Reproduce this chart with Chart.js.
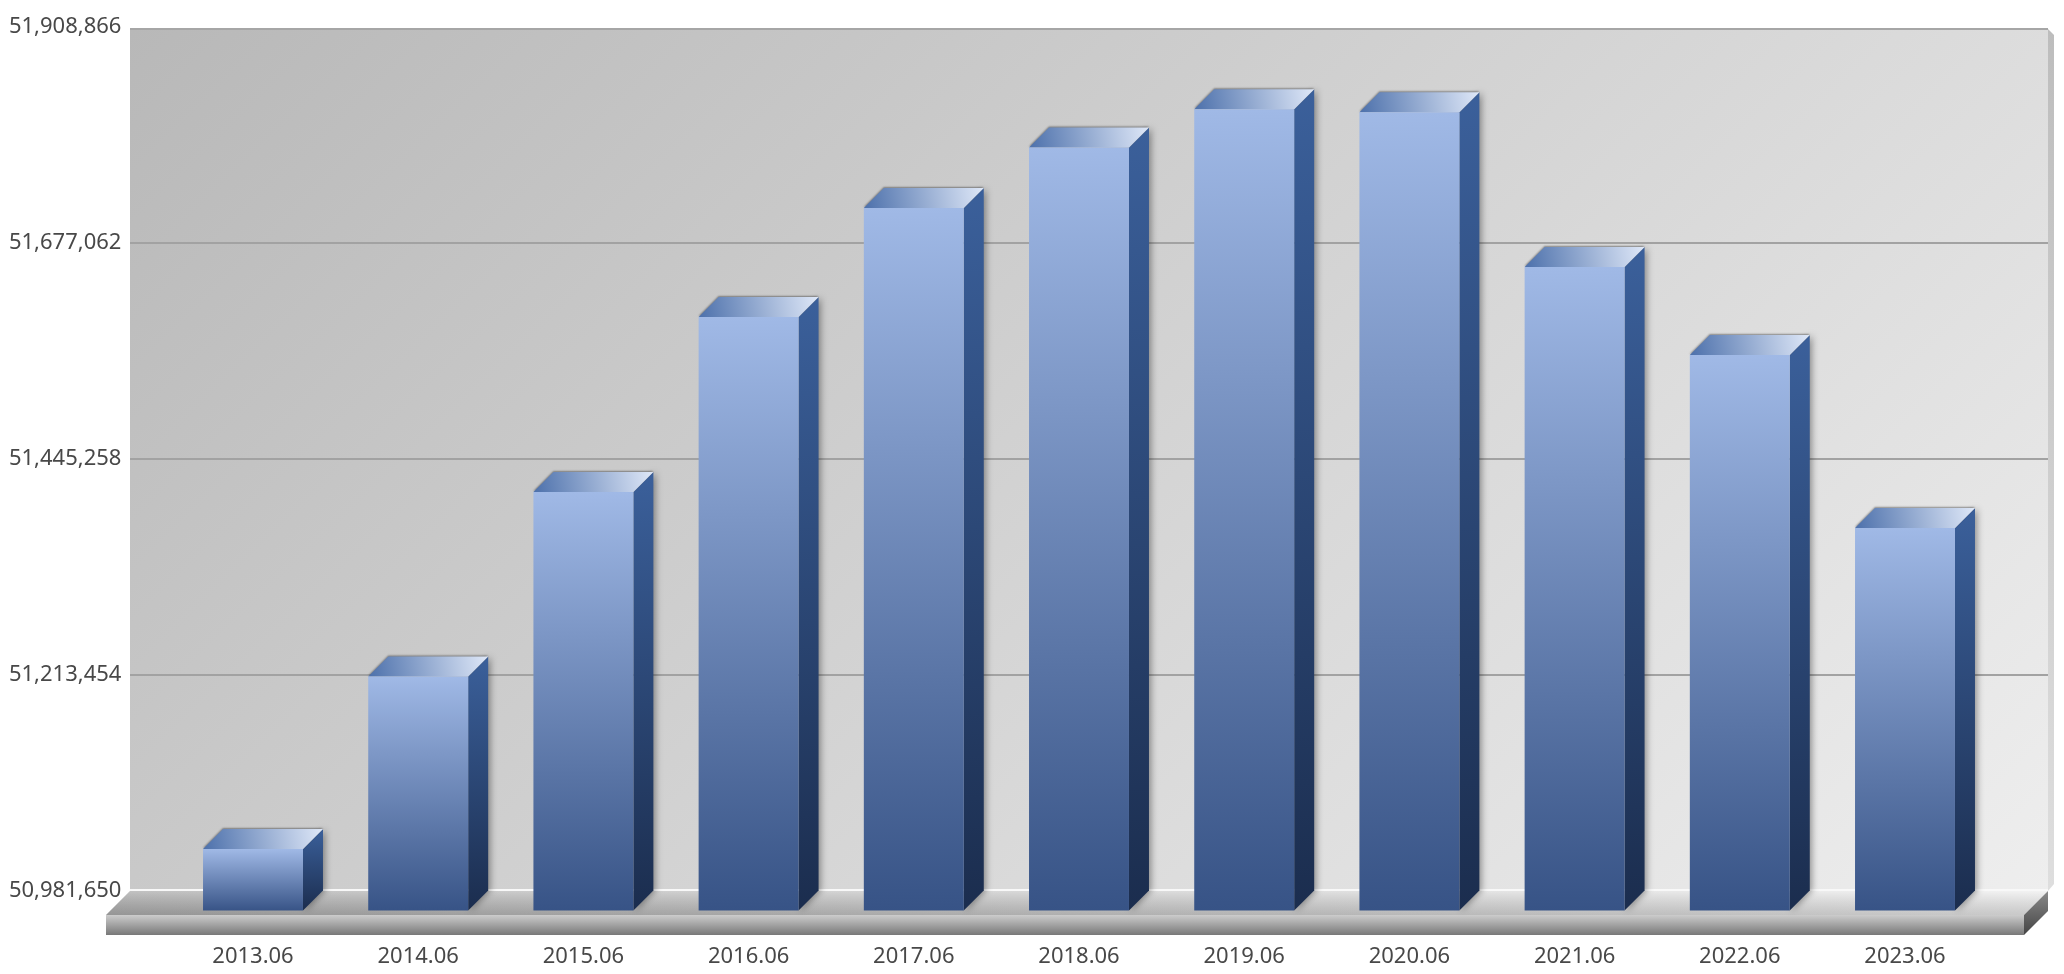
<!DOCTYPE html>
<html>
<head>
<meta charset="utf-8">
<style>
    html, body { margin: 0; padding: 0; background: #fff; }
    canvas { display: block; }
</style>
<script src="https://cdn.jsdelivr.net/npm/chart.js@4"></script>
</head>
<body>
<canvas id="chart" width="2064" height="974"></canvas>
<script>
// values
const categories = ["2013.06", "2014.06", "2015.06", "2016.06", "2017.06", "2018.06", "2019.06", "2020.06", "2021.06", "2022.06", "2023.06"];
const population = [51048190, 51233310, 51431310, 51619110, 51736090, 51801010, 51842010, 51838790, 51672770, 51578330, 51392670];
const tick_values = [50981650, 51213454, 51445258, 51677062, 51908866];

const depth = 20;       // how far the bars stick out of the wall
const floor_depth = 24;
const floor_height = 20;
const label_font = { family: 'Noto Sans', size: 22 };

function verticalGradient(ctx, y0, y1, c0, c1) {
    const g = ctx.createLinearGradient(0, y0, 0, y1);
    g.addColorStop(0, c0);
    g.addColorStop(1, c1);
    return g;
}

function polygon(ctx, points, fill) {
    ctx.beginPath();
    points.forEach((p, i) => i === 0 ? ctx.moveTo(p[0], p[1]) : ctx.lineTo(p[0], p[1]));
    ctx.closePath();
    ctx.fillStyle = fill;
    ctx.fill();
}

// wall, grid lines and floor, all behind the bars
const room = {
    id: 'room',
    beforeDatasetsDraw(chart) {
        const ctx = chart.ctx;
        const y = chart.scales.y;
        const top = y.getPixelForValue(tick_values[tick_values.length - 1]) + 2;
        const bottom = y.getPixelForValue(tick_values[0]);
        const left = 130, right = 2048;
        ctx.save();

        // thin side of the wall
        polygon(ctx, [[right, top], [right + 6, top + 6], [right + 6, bottom - 7], [right, bottom]], verticalGradient(ctx, top, bottom, '#bdbdbd', '#dedede'));

        const wall = ctx.createLinearGradient(left, top, left + 1346, top + 1409);
        wall.addColorStop(0, '#b8b8b8');
        wall.addColorStop(1, '#eeeeee');
        ctx.fillStyle = wall;
        ctx.fillRect(left, top, right - left, bottom - top);

        ctx.fillStyle = '#a6a6a6';
        ctx.fillRect(left, top - 1, right - left, 2);

        ctx.fillStyle = '#a2a2a2';
        tick_values.slice(1, -1).forEach((v) => {
            ctx.fillRect(left, Math.round(y.getPixelForValue(v)) - 1, right - left, 2);
        });

        // floor top
        const fy = bottom + floor_depth;
        const topShade = ctx.createLinearGradient(left - floor_depth, 0, right, 0);
        topShade.addColorStop(0, '#b2b2b2');
        topShade.addColorStop(1, '#f0f0f0');
        polygon(ctx, [[left, bottom], [right, bottom], [right - floor_depth, fy], [left - floor_depth, fy]], topShade);
        polygon(ctx, [[left, bottom], [right, bottom], [right - floor_depth, fy], [left - floor_depth, fy]], verticalGradient(ctx, bottom, fy, 'rgba(255,255,255,0.2)', 'rgba(0,0,0,0.16)'));
        ctx.fillStyle = '#f8f8f8';
        ctx.fillRect(left, bottom - 2, right - left, 2);

        // floor front and right side
        polygon(ctx, [[left - floor_depth, fy], [right - floor_depth, fy], [right - floor_depth, fy + floor_height], [left - floor_depth, fy + floor_height]], verticalGradient(ctx, fy, fy + floor_height, '#cccccc', '#787878'));
        polygon(ctx, [[right - floor_depth, fy], [right, bottom], [right, bottom + floor_height], [right - floor_depth, fy + floor_height]], verticalGradient(ctx, bottom, fy + floor_height, '#8a8a8a', '#444444'));
        ctx.restore();
    }
};

// side and top faces are added round the bars, the front face is the library's bar moved forward
const bars3d = {
    id: 'bars3d',
    beforeDatasetDraw(chart, args) {
        const ctx = chart.ctx;
        ctx.save();
        args.meta.data.forEach((bar) => {
            const l = bar.x - bar.width / 2;
            const r = bar.x + bar.width / 2;
            const t = bar.y + depth;
            const b = bar.base + depth;
            ctx.save();
            ctx.shadowColor = 'rgba(0,0,0,0.4)';
            ctx.shadowBlur = 7;
            ctx.shadowOffsetX = 2;
            polygon(ctx, [[r, t], [r + depth, t - depth], [r + depth, b - depth], [r, b]], verticalGradient(ctx, t - depth, b, '#3b609b', '#1b2d4e'));
            ctx.shadowOffsetX = 0;
            ctx.shadowOffsetY = -1;
            ctx.shadowBlur = 2;
            const lid = ctx.createLinearGradient(l, t, r + depth, t - depth);
            lid.addColorStop(0, '#4c70ab');
            lid.addColorStop(1, '#dfe8f8');
            polygon(ctx, [[l, t], [r, t], [r + depth, t - depth], [l + depth, t - depth]], lid);
            ctx.restore();
        });
        ctx.translate(0, depth);
    },
    afterDatasetDraw(chart) {
        chart.ctx.restore();
    }
};

new Chart(document.getElementById('chart'), {
    type: 'bar',
    data: {
        labels: categories,
        datasets: [{
            data: population,
            base: tick_values[0],
            backgroundColor: (c) => {
                const y = c.chart.scales.y;
                const y0 = y.getPixelForValue(population[c.dataIndex]);
                const y1 = y.getPixelForValue(tick_values[0]);
                // scales have no size yet on the very first pass
                if (!isFinite(y0) || !isFinite(y1)) return '#7f9ccf';
                return verticalGradient(c.chart.ctx, y0, y1, '#a0b9e6', '#375386');
            },
            borderWidth: 0,
            barPercentage: 0.605,
            categoryPercentage: 1,
            clip: false
        }]
    },
    plugins: [room, bars3d],
    options: {
        responsive: false,
        animation: false,
        events: [],
        layout: { padding: { top: 27, right: 76.4, left: 0, bottom: 0 } },
        plugins: { legend: { display: false }, tooltip: { enabled: false } },
        scales: {
            x: {
                grid: { color: 'transparent', tickLength: 51 },
                border: { display: false },
                afterFit: (s) => { s.height = 83; },
                ticks: { color: '#484848', font: label_font, padding: 2, maxRotation: 0, autoSkip: false }
            },
            y: {
                min: tick_values[0],
                max: tick_values[tick_values.length - 1],
                afterFit: (s) => { s.width = 170.4; },
                afterBuildTicks: (s) => { s.ticks = tick_values.map((v) => ({ value: v })); },
                grid: { color: 'transparent', tickLength: 47 },
                border: { display: false },
                ticks: {
                    color: '#484848',
                    font: label_font,
                    padding: 2,
                    callback: (v) => Number(v).toLocaleString('en-US')
                }
            }
        }
    }
});
</script>
</body>
</html>
